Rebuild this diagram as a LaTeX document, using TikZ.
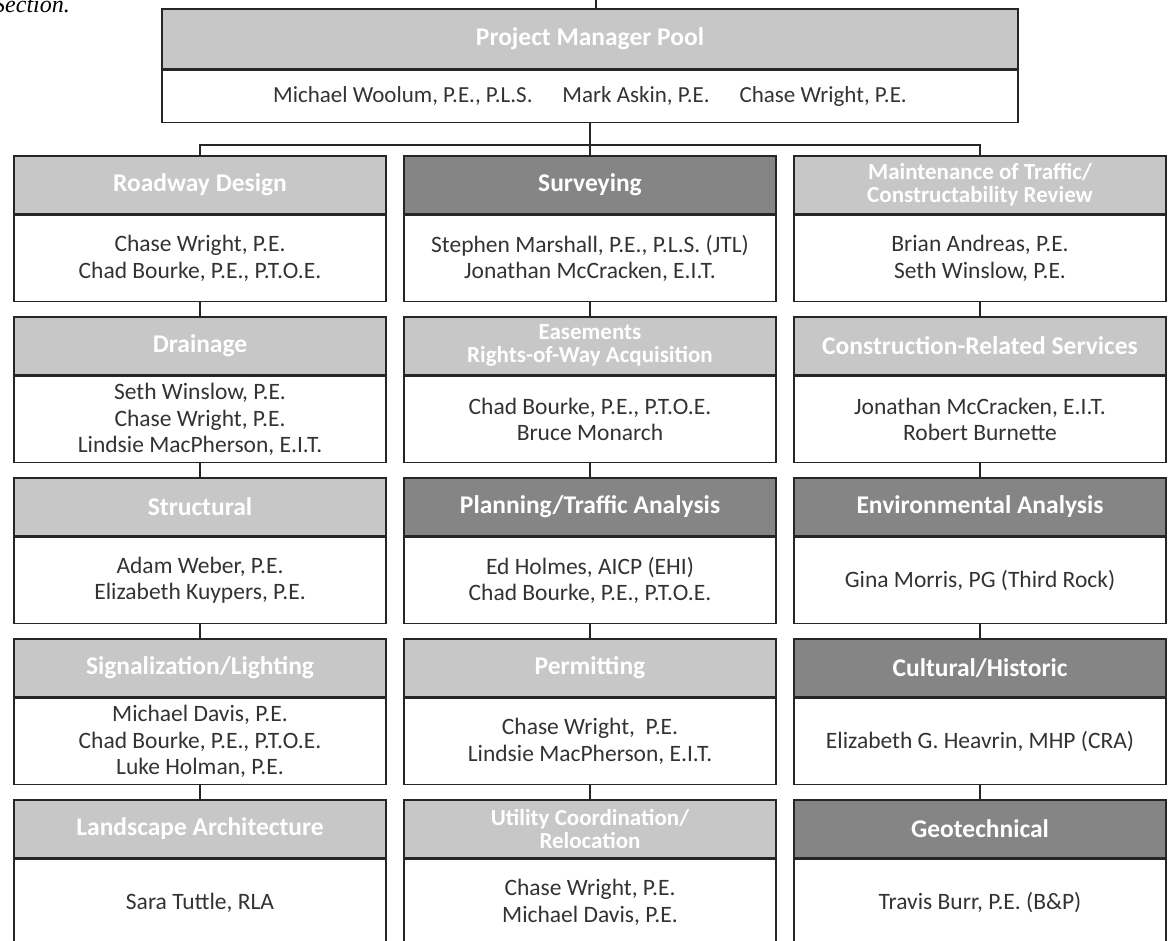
\documentclass[tikz,border=0pt]{standalone}
\usepackage{fontspec}
\setmainfont{Carlito}
\newfontfamily\capfont{Liberation Serif}
\usetikzlibrary{positioning}
\tikzstyle{hdr} = [rectangle, anchor=north, minimum width=372pt, minimum height=58pt, inner sep=0pt, draw=black!85, line width=1.6pt, fill=black!22, text=white, align=center, font=\bfseries\fontsize{25.5}{25}\selectfont]
\tikzstyle{hdrtwo} = [hdr, font=\bfseries\fontsize{23}{23}\selectfont]
\tikzstyle{hdrdk} = [hdr, fill=black!48]
\tikzstyle{names} = [rectangle, anchor=north, minimum width=372pt, minimum height=86pt, inner sep=0pt, draw=black!85, line width=1.6pt, fill=white, text=black!80, align=center, font=\fontsize{23.5}{26.5}\selectfont]
\tikzstyle{link} = [line width=1.4pt, draw=black!85]

\begin{document}
\begin{tikzpicture}[x=1pt, y=-1pt]
        \useasboundingbox (0,0) rectangle (1172,941);
        \clip (0,0) rectangle (1172,941);
        \fill[white] (0,0) rectangle (1172,941);
        \node[anchor=base west, inner sep=0pt, font=\capfont\itshape\fontsize{24}{24}\selectfont] (sec) at (-7,13) {Section.};

        % project manager pool
        \node[hdr, minimum width=856pt, minimum height=60pt] (pm) at (590,8) {Project Manager Pool};
        \node[names, minimum width=856pt, minimum height=52pt, font=\fontsize{23}{24}\selectfont] (pmn) at (pm.south) {Michael Woolum, P.E., P.L.S.\hspace{1.3em}Mark Askin, P.E.\hspace{1.3em}Chase Wright, P.E.};
        \coordinate (top) at (596,0);
        \coordinate (bus) at (590,145);

        % left column
        \node[hdr] (road) at (200,155) {Roadway Design};
        \node[names] (roadn) at (road.south) {Chase Wright, P.E.\\Chad Bourke, P.E., P.T.O.E.};
        \node[hdr] (drain) at (200,316) {Drainage};
        \node[names] (drainn) at (drain.south) {Seth Winslow, P.E.\\Chase Wright, P.E.\\Lindsie MacPherson, E.I.T.};
        \node[hdr] (struct) at (200,477) {Structural};
        \node[names] (structn) at (struct.south) {Adam Weber, P.E.\\Elizabeth Kuypers, P.E.};
        \node[hdr] (signal) at (200,638) {Signalization/Lighting};
        \node[names] (signaln) at (signal.south) {Michael Davis, P.E.\\Chad Bourke, P.E., P.T.O.E.\\Luke Holman, P.E.};
        \node[hdr] (land) at (200,799) {Landscape Architecture};
        \node[names] (landn) at (land.south) {Sara Tuttle, RLA};

        % middle column
        \node[hdrdk] (survey) at (590,155) {Surveying};
        \node[names] (surveyn) at (survey.south) {Stephen Marshall, P.E., P.L.S. (JTL)\\Jonathan McCracken, E.I.T.};
        \node[hdrtwo] (ease) at (590,316) {Easements\\Rights-of-Way Acquisition};
        \node[names] (easen) at (ease.south) {Chad Bourke, P.E., P.T.O.E.\\Bruce Monarch};
        \node[hdrdk] (plan) at (590,477) {Planning/Traffic Analysis};
        \node[names] (plann) at (plan.south) {Ed Holmes, AICP (EHI)\\Chad Bourke, P.E., P.T.O.E.};
        \node[hdr] (permit) at (590,638) {Permitting};
        \node[names] (permitn) at (permit.south) {Chase Wright, \ P.E.\\Lindsie MacPherson, E.I.T.};
        \node[hdrtwo] (util) at (590,799) {Utility Coordination/\\Relocation};
        \node[names] (utiln) at (util.south) {Chase Wright, P.E.\\Michael Davis, P.E.};

        % right column
        \node[hdrtwo] (mot) at (980,155) {Maintenance of Traffic/\\Constructability Review};
        \node[names] (motn) at (mot.south) {Brian Andreas, P.E.\\Seth Winslow, P.E.};
        \node[hdr] (crs) at (980,316) {Construction-Related Services};
        \node[names] (crsn) at (crs.south) {Jonathan McCracken, E.I.T.\\Robert Burnette};
        \node[hdrdk] (env) at (980,477) {Environmental Analysis};
        \node[names] (envn) at (env.south) {Gina Morris, PG (Third Rock)};
        \node[hdrdk] (cult) at (980,638) {Cultural/Historic};
        \node[names] (cultn) at (cult.south) {Elizabeth G. Heavrin, MHP (CRA)};
        \node[hdrdk] (geo) at (980,799) {Geotechnical};
        \node[names] (geon) at (geo.south) {Travis Burr, P.E. (B\&P)};

        \draw[link] (top) -- (top |- pm.north);
        \draw[link] (pmn.south) -- (bus);
        \draw[link] (road.north) |- (bus) -| (mot.north);
        \draw[link] (bus) -- (survey.north);
        \foreach \a/\b in {roadn/drain, drainn/struct, structn/signal, signaln/land,
                surveyn/ease, easen/plan, plann/permit, permitn/util,
                motn/crs, crsn/env, envn/cult, cultn/geo}
        {\draw[link] (\a.south) -- (\b.north);}
\end{tikzpicture}
\end{document}
